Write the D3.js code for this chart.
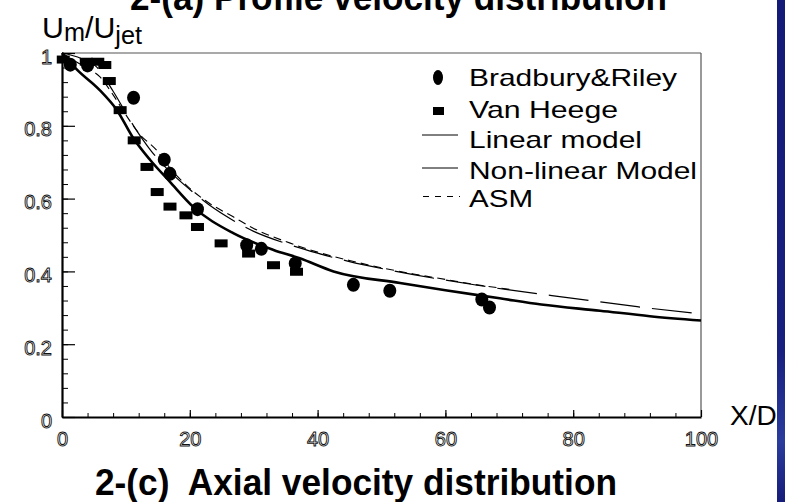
<!DOCTYPE html>
<html>
<head>
<meta charset="utf-8">
<script src="https://cdn.jsdelivr.net/npm/d3@7"></script>
<style>
  body { margin: 0; background: #fff; }
  svg { display: block; font-family: "Liberation Sans", Arial, sans-serif; }
</style>
</head>
<body>
<svg id="chart" width="785" height="502"></svg>
<script>
// Values (x = X/D, y = Um/Ujet).
const seriesNames = ["Bradbury&Riley", "Van Heege", "Linear model", "Non-linear Model", "ASM"];

const bradbury = [
  [1.3, 0.968], [4.0, 0.966], [11.2, 0.877], [16.0, 0.707], [16.9, 0.668],
  [21.2, 0.571], [28.9, 0.472], [31.2, 0.462], [36.5, 0.422], [45.6, 0.363],
  [51.3, 0.347], [65.7, 0.323], [66.9, 0.301]
];
const vanHeege = [
  [0.2, 0.982], [3.8, 0.976], [5.6, 0.976], [6.7, 0.967], [7.4, 0.923],
  [9.1, 0.843], [11.3, 0.760], [13.3, 0.687], [14.9, 0.618], [16.9, 0.578],
  [19.4, 0.554], [21.2, 0.522], [24.9, 0.477], [29.2, 0.449], [33.1, 0.417],
  [36.7, 0.399]
];
const linearModel = [
  [0, 1.0], [3, 0.985], [5.4, 0.962], [8, 0.895], [11.2, 0.80], [14, 0.73],
  [17, 0.672], [20, 0.625], [23, 0.583], [26.8, 0.54], [30, 0.51], [35, 0.477],
  [40, 0.45], [45, 0.427], [50, 0.408], [55, 0.391], [60, 0.376], [65, 0.362],
  [70, 0.349], [80, 0.326], [90, 0.303], [100, 0.283]
];
const nonLinearModel = [
  [0, 1.0], [2.3, 0.955], [5.9, 0.898], [8.6, 0.843], [11.2, 0.765], [13.8, 0.706],
  [16.9, 0.646], [20.5, 0.578], [26.8, 0.505], [33.1, 0.459], [37.2, 0.436],
  [42.5, 0.400], [52.9, 0.368], [60, 0.348], [68.5, 0.326], [75, 0.309],
  [84.2, 0.292], [92, 0.277], [100, 0.265]
];
const asm = [
  [0, 1.0], [2, 0.978], [4, 0.958], [5.9, 0.935], [8, 0.885], [10, 0.83],
  [12, 0.78], [14.8, 0.733], [17, 0.682], [20, 0.628], [23, 0.588], [26.8, 0.55],
  [30, 0.518], [35, 0.482], [40, 0.453], [45, 0.43], [50, 0.41], [55, 0.393],
  [60, 0.378], [65, 0.363], [70, 0.351]
];

const xTicks = [0, 20, 40, 60, 80, 100];
const xTickLabels = ["0", "20", "40", "60", "80", "100"];
const yTicks = [0, 0.2, 0.4, 0.6, 0.8, 1];
const yTickLabels = ["0", "0.2", "0.4", "0.6", "0.8", "1"];

const svg = d3.select("#chart");
const m = { left: 62, right: 701, top: 53, bottom: 417 };
const x = d3.scaleLinear([0, 100], [m.left, m.right]);
const y = d3.scaleLinear([0, 1], [m.bottom, m.top]);

// Blue strip on the right edge (slide background peeking through).
const grad = svg.append("defs").append("linearGradient")
  .attr("id", "strip").attr("x1", 0).attr("x2", 0).attr("y1", 0).attr("y2", 1);
grad.append("stop").attr("offset", "0%").attr("stop-color", "#141a78");
grad.append("stop").attr("offset", "70%").attr("stop-color", "#18207f");
grad.append("stop").attr("offset", "88%").attr("stop-color", "#2a3c9c");
grad.append("stop").attr("offset", "100%").attr("stop-color", "#161c7a");

// Titles (the upper one is cut off by the top edge, as in the source).
svg.append("text").attr("x", 130).attr("y", 9.5)
  .attr("font-size", 36).attr("font-weight", "bold")
  .attr("textLength", 537).attr("lengthAdjust", "spacingAndGlyphs")
  .text("2-(a) Profile velocity distribution");
svg.append("text").attr("x", 95).attr("y", 495)
  .attr("font-size", 36).attr("font-weight", "bold").attr("xml:space", "preserve")
  .attr("textLength", 522).attr("lengthAdjust", "spacingAndGlyphs")
  .text("2-(c)  Axial velocity distribution");

// Frame: thin gray top/right.
svg.append("line").attr("x1", m.left).attr("x2", m.right).attr("y1", m.top).attr("y2", m.top)
  .attr("stroke", "#555").attr("stroke-width", 1.2);
svg.append("line").attr("x1", m.right).attr("x2", m.right).attr("y1", m.top).attr("y2", m.bottom)
  .attr("stroke", "#555").attr("stroke-width", 1.2);

// Minor ticks.
svg.append("g").attr("transform", `translate(${m.left},0)`)
  .call(d3.axisLeft(y).tickValues(d3.range(0, 1.001, 0.04)).tickSizeInner(-6).tickSizeOuter(0).tickFormat(""))
  .call((g) => g.select(".domain").remove());
svg.append("g").attr("transform", `translate(0,${m.bottom})`)
  .call(d3.axisBottom(x).tickValues(d3.range(0, 100.1, 4)).tickSizeInner(-4).tickSizeOuter(0).tickFormat(""))
  .call((g) => g.select(".domain").remove());

// Major ticks + hollow labels.
const yAxis = svg.append("g").attr("transform", `translate(${m.left},0)`)
  .call(d3.axisLeft(y).tickValues(yTicks).tickSizeInner(-13).tickSizeOuter(0).tickPadding(10)
    .tickFormat((d, i) => yTickLabels[i]));
const xAxis = svg.append("g").attr("transform", `translate(0,${m.bottom})`)
  .call(d3.axisBottom(x).tickValues(xTicks).tickSizeInner(-7).tickSizeOuter(0).tickPadding(15)
    .tickFormat((d, i) => xTickLabels[i]));
for (const ax of [yAxis, xAxis]) {
  ax.attr("font-family", null).attr("font-size", null);
  ax.select(".domain").attr("stroke", "#000").attr("stroke-width", 2.2);
  ax.selectAll(".tick line").attr("stroke", "#000").attr("stroke-width", 1.2);
  ax.selectAll(".tick text").attr("fill", "#fff").attr("stroke", "#111").attr("stroke-width", 0.9)
    .attr("font-size", 20);
}
yAxis.selectAll(".tick text").attr("dy", "0.5em");
xAxis.selectAll(".tick text").attr("dy", "0.71em");

// Model curves.
const line = d3.line().x((d) => x(d[0])).y((d) => y(d[1])).curve(d3.curveMonotoneX);
svg.append("path").datum(asm).attr("d", line).attr("fill", "none")
  .attr("stroke", "#000").attr("stroke-width", 1.1).attr("stroke-dasharray", "8,5");
svg.append("path").datum(linearModel).attr("d", line).attr("fill", "none")
  .attr("stroke", "#000").attr("stroke-width", 1.2).attr("stroke-dasharray", "40,12");
svg.append("path").datum(nonLinearModel).attr("d", line).attr("fill", "none")
  .attr("stroke", "#000").attr("stroke-width", 2.6);

// Experimental markers.
svg.append("g").selectAll("ellipse").data(bradbury).join("ellipse")
  .attr("cx", (d) => x(d[0])).attr("cy", (d) => y(d[1])).attr("rx", 6.5).attr("ry", 7).attr("fill", "#000");
svg.append("g").selectAll("rect").data(vanHeege).join("rect")
  .attr("x", (d) => x(d[0]) - 6.5).attr("y", (d) => y(d[1]) - 4).attr("width", 13).attr("height", 8).attr("fill", "#000");

// Legend.
const lg = svg.append("g").attr("font-size", 24);
const lgY = [86, 117.7, 148.3, 179, 207.3];
const lgW = [208, 149, 173, 228, 64];
lg.selectAll("text").data(seriesNames).join("text")
  .attr("x", 469).attr("y", (d, i) => lgY[i])
  .attr("textLength", (d, i) => lgW[i]).attr("lengthAdjust", "spacingAndGlyphs")
  .text((d) => d);
lg.append("ellipse").attr("cx", 438).attr("cy", 77.5).attr("rx", 5).attr("ry", 7.5);
lg.append("rect").attr("x", 433).attr("y", 107).attr("width", 11).attr("height", 8);
lg.append("line").attr("x1", 422).attr("x2", 458).attr("y1", 135).attr("y2", 135).attr("stroke", "#000").attr("stroke-width", 1);
lg.append("line").attr("x1", 422).attr("x2", 458).attr("y1", 168).attr("y2", 168).attr("stroke", "#000").attr("stroke-width", 1);
lg.append("line").attr("x1", 423).attr("x2", 460).attr("y1", 196.5).attr("y2", 196.5).attr("stroke", "#000")
  .attr("stroke-width", 1).attr("stroke-dasharray", "6,6");

// Axis titles.
const yt = svg.append("text").attr("x", 42).attr("y", 38).attr("font-size", 30);
yt.append("tspan").text("U");
yt.append("tspan").attr("font-size", 25).attr("dy", 3).text("m");
yt.append("tspan").attr("dy", -3).text("/U");
yt.append("tspan").attr("font-size", 25).attr("dy", 6).text("jet");
yt.attr("textLength", 100).attr("lengthAdjust", "spacingAndGlyphs");
svg.append("text").attr("x", 730).attr("y", 425).attr("font-size", 28).text("X/D");

svg.append("rect").attr("x", 777).attr("y", 0).attr("width", 8).attr("height", 502).attr("fill", "url(#strip)");
</script>
</body>
</html>
